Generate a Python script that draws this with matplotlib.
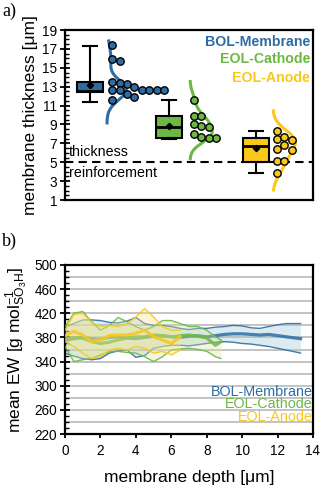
import numpy as np
import matplotlib
matplotlib.use("Agg")
import matplotlib.pyplot as plt
from matplotlib.ticker import MultipleLocator, FixedLocator

plt.rcParams['font.family'] = ['Liberation Sans', 'DejaVu Sans']
plt.rcParams['mathtext.fontset'] = 'custom'
plt.rcParams['mathtext.rm'] = 'Liberation Sans'
plt.rcParams['mathtext.it'] = 'Liberation Sans:italic'

# ---------------- data ----------------
groups = ["BOL-Membrane", "EOL-Cathode", "EOL-Anode"]
colors = ["#2e6da4", "#6cb845", "#f8c81a"]
band_colors = ["#9cc8d8", "#d6e49a", "#f6e58a"]

thk_bol = [17.4, 15.7, 15.9, 13.0, 13.3, 13.4, 13.5, 12.6, 12.6, 12.6, 12.6,
           12.6, 12.6, 11.6, 11.9, 12.2]
thk_cat = [11.6, 9.9, 9.9, 8.7, 8.8, 9.1, 7.6, 7.6, 7.7, 8.0]
thk_ano = [8.35, 7.4, 7.5, 7.7, 6.3, 6.4, 6.8, 5.1, 5.1, 3.9]

box_q1 = [12.45, 7.6, 5.07]
box_med = [12.58, 8.7, 6.73]
box_q3 = [13.53, 9.9, 7.61]
box_lo = [11.42, 7.5, 3.91]
box_hi = [17.34, 11.63, 8.32]
box_mean = [13.2, 8.84, 6.48]

kde_lo = [9.0, 5.2, 1.9]
kde_hi = [18.0, 13.7, 10.6]

reinforcement = 5.0
thk_ticks = list(range(1, 20, 2))

# panel b
ew_ticks = list(range(220, 501, 40))
depth_ticks = list(range(0, 15, 2))
x_bol = [0, 0.5, 1, 1.5, 2, 2.5, 3, 3.5, 4, 4.5, 5, 5.5, 6, 6.5, 7, 7.5, 8,
         8.5, 9, 9.5, 10, 10.5, 11, 11.5, 12, 12.5, 13, 13.3]
bol_up = [398, 403, 409, 409, 408, 405, 404, 407, 413, 403, 400, 400, 398, 395,
          393, 395, 395, 397, 398, 400, 399, 396, 395, 398, 401, 403, 403, 403]
bol_mean = [375, 378, 380, 378, 377, 380, 381, 379, 378, 380, 382, 383, 381,
            380, 382, 383, 381, 383, 385, 386, 386, 385, 384, 385, 383, 381,
            379, 378]
bol_lo = [354, 349, 345, 343, 345, 354, 358, 359, 347, 350, 362, 365, 367, 367,
          366, 368, 370, 372, 373, 372, 370, 369, 367, 365, 362, 359, 356, 354]

x_cat = [0, 0.5, 1, 1.5, 2, 2.5, 3, 3.5, 4, 4.5, 5, 5.5, 6, 6.5, 7, 7.5, 8,
         8.5, 8.8]
cat_up = [398, 420, 423, 406, 392, 400, 413, 406, 398, 392, 398, 408, 408, 403,
          398, 398, 392, 381, 376]
cat_mean = [377, 380, 379, 373, 370, 372, 376, 379, 381, 381, 384, 383, 381,
            383, 384, 382, 379, 367, 373]
cat_lo = [365, 340, 343, 345, 351, 356, 357, 355, 354, 348, 340, 348, 359, 361,
          362, 360, 357, 348, 345]

x_ano = [0, 0.5, 1, 1.5, 2, 2.5, 3, 3.5, 4, 4.5, 5, 5.5, 6, 6.5]
ano_up = [392, 418, 420, 405, 398, 400, 398, 403, 414, 428, 414, 398, 392, 392]
ano_mean = [383, 390, 384, 373, 376, 383, 384, 384, 387, 392, 381, 376, 370, 381]
ano_lo = [373, 365, 354, 345, 348, 359, 362, 359, 365, 362, 354, 357, 351, 359]

# ---------------- figure ----------------
W, H = 323, 488
fig = plt.figure(figsize=(W / 100, H / 100), dpi=100)

axa = fig.add_axes([65 / W, 1 - 200 / H, 248 / W, 170 / H])
axb = fig.add_axes([65 / W, 1 - 434 / H, 248 / W, 169 / H])

for ax in (axa, axb):
    for s in ax.spines.values():
        s.set_linewidth(1.6)
        s.set_color("black")

# ---------- panel a ----------
positions = [1.0, 4.2, 7.7]
swarm_start = [0.9, 1.0, 0.85]
kde_base = [0.69, 0.84, 0.69]
kde_amp = [0.78, 0.9, 0.9]
data = [thk_bol, thk_cat, thk_ano]

axa.set_xlim(0, 10)
axa.set_ylim(1, 19)

stats = []
for i in range(3):
    stats.append(dict(med=box_med[i], q1=box_q1[i], q3=box_q3[i],
                      whislo=box_lo[i], whishi=box_hi[i], mean=box_mean[i],
                      fliers=[]))
bp = axa.bxp(stats, positions=positions, widths=1.05, patch_artist=True,
             showmeans=True, showfliers=False,
             boxprops=dict(linewidth=1.5, edgecolor="black"),
             medianprops=dict(color="black", linewidth=2.0),
             whiskerprops=dict(color="black", linewidth=1.5),
             capprops=dict(color="black", linewidth=1.5),
             meanprops=dict(marker="D", markerfacecolor="black",
                            markeredgecolor="black", markersize=3.2),
             capwidths=0.55, zorder=3)
for patch, c in zip(bp["boxes"], colors):
    patch.set_facecolor(c)

# pixel scale for swarm layout
px_x = 248 / 10.0
px_y = 170 / 18.0
diam = 7.2
for i in range(3):
    vals = np.array(data[i], dtype=float)
    order = np.argsort(-vals)
    placed = []
    xs = np.zeros(len(vals))
    for j in order:
        k = 0
        while True:
            xc = positions[i] + swarm_start[i] + k * 0.3
            ok = True
            for (xp, yp) in placed:
                dx = (xc - xp) * px_x
                dy = (vals[j] - yp) * px_y
                if dx * dx + dy * dy < (diam * 0.92) ** 2:
                    ok = False
                    break
            if ok:
                break
            k += 1
        xs[j] = xc
        placed.append((xc, vals[j]))
    # KDE curve
    n = len(vals)
    h = vals.std(ddof=1) * n ** (-0.2)
    yy = np.linspace(kde_lo[i], kde_hi[i], 200)
    dens = np.exp(-0.5 * ((yy[:, None] - vals[None, :]) / h) ** 2).sum(axis=1)
    dens = dens / dens.max() * kde_amp[i]
    axa.plot(positions[i] + kde_base[i] + dens, yy, color=colors[i], lw=2.2,
             zorder=3, solid_capstyle="butt")
    axa.scatter(xs, vals, s=diam ** 2 * 0.55, facecolor=colors[i],
                edgecolor="black", linewidth=1.0, zorder=4)

axa.axhline(reinforcement, color="black", lw=1.5, ls=(0, (4, 2.5)), zorder=2)
axa.text(0.16, reinforcement + 0.3, "thickness", fontsize=10.3,
         ha="left", va="bottom")
axa.text(0.16, reinforcement - 0.35, "reinforcement", fontsize=10.3,
         ha="left", va="top")

axa.set_xticks([])
axa.yaxis.set_major_locator(FixedLocator(thk_ticks))
axa.yaxis.set_minor_locator(MultipleLocator(0.5))
axa.tick_params(axis="y", which="major", direction="inout", length=7,
                width=1.3, labelsize=9.8, pad=2)
axa.tick_params(axis="y", which="minor", direction="in", length=3, width=1.0)
axa.set_ylabel("membrane thickness [μm]", fontsize=12.5, labelpad=3)

for k, (g, c) in enumerate(zip(groups, colors)):
    axa.text(0.988, [0.929, 0.829, 0.718][k], g, color=c, fontsize=10.2,
             fontweight="bold", ha="right", va="center",
             transform=axa.transAxes)

# ---------- panel b ----------
axb.set_xlim(0, 14)
axb.set_ylim(220, 500)
for yv in range(240, 500, 20):
    axb.axhline(yv, color="#b9b9b9", lw=1.2, zorder=0)

series = [(x_bol, bol_lo, bol_mean, bol_up),
          (x_cat, cat_lo, cat_mean, cat_up),
          (x_ano, ano_lo, ano_mean, ano_up)]
for i, (xx, lo, mn, up) in enumerate(series):
    axb.fill_between(xx, lo, up, color=band_colors[i], alpha=0.35, lw=0,
                     zorder=1 + i)
    axb.plot(xx, up, color=colors[i], lw=1.0, zorder=2 + i, alpha=0.9)
    axb.plot(xx, lo, color=colors[i], lw=1.0, zorder=2 + i, alpha=0.9)
    axb.plot(xx, mn, color=colors[i], lw=2.3, zorder=2 + i, alpha=0.85)

axb.xaxis.set_major_locator(FixedLocator(depth_ticks))
axb.yaxis.set_major_locator(FixedLocator(ew_ticks))
axb.yaxis.set_minor_locator(MultipleLocator(10))
axb.tick_params(axis="y", which="major", direction="inout", length=7,
                width=1.3, labelsize=9.8, pad=2)
axb.tick_params(axis="y", which="minor", direction="in", length=3, width=1.0)
axb.tick_params(axis="x", which="major", direction="out", length=3,
                width=1.3, labelsize=9.8, pad=4)
axb.set_xlabel("membrane depth [μm]", fontsize=12.5, labelpad=9)
axb.set_ylabel(r"mean EW [g mol$^{-1}_{\mathregular{SO_3H}}$]", fontsize=12.5,
               labelpad=3)

for k, (g, c) in enumerate(zip(groups, colors)):
    axb.text(1.0, [0.250, 0.176, 0.102][k], g, color=c, fontsize=10.4,
             ha="right", va="center", transform=axb.transAxes)

fig.text(2 / W, 1 - 3 / H, "a)", fontsize=13, family="Liberation Serif",
         ha="left", va="top")
fig.text(2 / W, 1 - 233 / H, "b)", fontsize=13, family="Liberation Serif",
         ha="left", va="top")

fig.savefig("out.png", dpi=100)
